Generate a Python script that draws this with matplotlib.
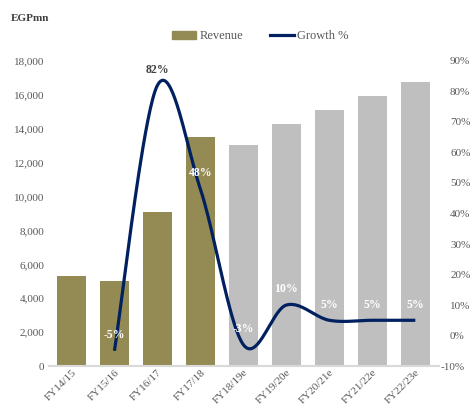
import numpy as np
import matplotlib.pyplot as plt
from matplotlib.patches import Patch
from matplotlib.lines import Line2D
from matplotlib.transforms import ScaledTranslation

years = ['FY14/15', 'FY15/16', 'FY16/17', 'FY17/18', 'FY18/19e',
         'FY19/20e', 'FY20/21e', 'FY21/22e', 'FY22/23e']
revenue = [5300, 5000, 9100, 13500, 13050, 14300, 15100, 15950, 16750]
growth = [None, -5, 82, 48, -3, 10, 5, 5, 5]
growth_lbl = ['', '-5%', '82%', '48%', '-3%', '10%', '5%', '5%', '5%']
n_actual = 4

OLIVE = '#948A54'
GREY = '#BFBFBF'
NAVY = '#002060'
TXT = '#595959'

plt.rcParams['font.family'] = ['Liberation Serif', 'DejaVu Serif']


def smooth(xs, ys, steps=40):
    # bezier through the points, control handles like a catmull-rom spline
    pts = np.column_stack([xs, ys]).astype(float)
    out = []
    for i in range(len(pts) - 1):
        p0 = pts[max(i - 1, 0)]
        p1 = pts[i]
        p2 = pts[i + 1]
        p3 = pts[min(i + 2, len(pts) - 1)]
        c1 = p1 + (p2 - p0) / 6
        c2 = p2 - (p3 - p1) / 6
        t = np.linspace(0, 1, steps)[:, None]
        seg = ((1 - t)**3 * p1 + 3 * (1 - t)**2 * t * c1
               + 3 * (1 - t) * t**2 * c2 + t**3 * p2)
        out.append(seg if i == 0 else seg[1:])
    out = np.vstack(out)
    return out[:, 0], out[:, 1]


fig = plt.figure(figsize=(4.72, 4.09), dpi=100)
ax = fig.add_axes([0.104, 0.105, 0.826, 0.746])
x = np.arange(len(years))
cols = [OLIVE if i < n_actual else GREY for i in range(len(years))]
ax.bar(x, revenue, width=0.67, color=cols, zorder=2)
ax.set_ylim(0, 18000)
ax.set_xlim(-0.52, 8.55)
ax.set_yticks(np.arange(0, 18001, 2000))
ax.set_yticklabels([f'{v:,}' for v in range(0, 18001, 2000)])
ax.set_xticks(x)
ax.set_xticklabels(years, rotation=45, ha='right', va='top',
                   rotation_mode='anchor')
for s in ['top', 'right', 'left']:
    ax.spines[s].set_visible(False)
ax.spines['bottom'].set_color('#D9D9D9')
ax.spines['bottom'].set_linewidth(1.5)
ax.tick_params(length=0, colors=TXT, labelsize=8)
ax.tick_params(axis='x', pad=1)

ax2 = ax.twinx()
ax2.set_ylim(-10, 90)
ax2.set_yticks(np.arange(-10, 91, 10))
ax2.set_yticklabels([f'{v}%' for v in range(-10, 91, 10)])
for s in ax2.spines.values():
    s.set_visible(False)
ax2.tick_params(length=0, colors=TXT, labelsize=8, pad=8)
# the minus sign hangs left of the column so -10% stays inside the figure
lbl = ax2.get_yticklabels()[0]
lbl.set_transform(lbl.get_transform()
                  + ScaledTranslation(-0.09, 0, fig.dpi_scale_trans))

gx = [i for i in x if growth[i] is not None]
gy = [growth[i] for i in gx]
sx, sy = smooth(gx, gy)
ax2.plot(sx, sy, color=NAVY, lw=2.3, solid_capstyle='butt', zorder=3)
for i in gx:
    c = '#404040' if growth[i] > 60 else 'white'
    ax2.annotate(growth_lbl[i], (i, growth[i]), xytext=(0, 7),
                 textcoords='offset points', ha='center', va='bottom',
                 fontsize=8.5, fontweight='bold', color=c, zorder=4)

fig.text(0.023, 0.955, 'EGPmn', fontsize=8, fontweight='bold', color='#404040',
         va='center')
handles = [Patch(color=OLIVE, label='Revenue'),
           Line2D([], [], color=NAVY, lw=2.3, label='Growth %')]
fig.legend(handles=handles, loc='center', bbox_to_anchor=(0.552, 0.912),
           ncol=2, frameon=False, fontsize=9, handlelength=1.9,
           handleheight=0.6, handletextpad=0.25, columnspacing=2.2,
           labelcolor=TXT)

fig.savefig('out.png', dpi=100)
